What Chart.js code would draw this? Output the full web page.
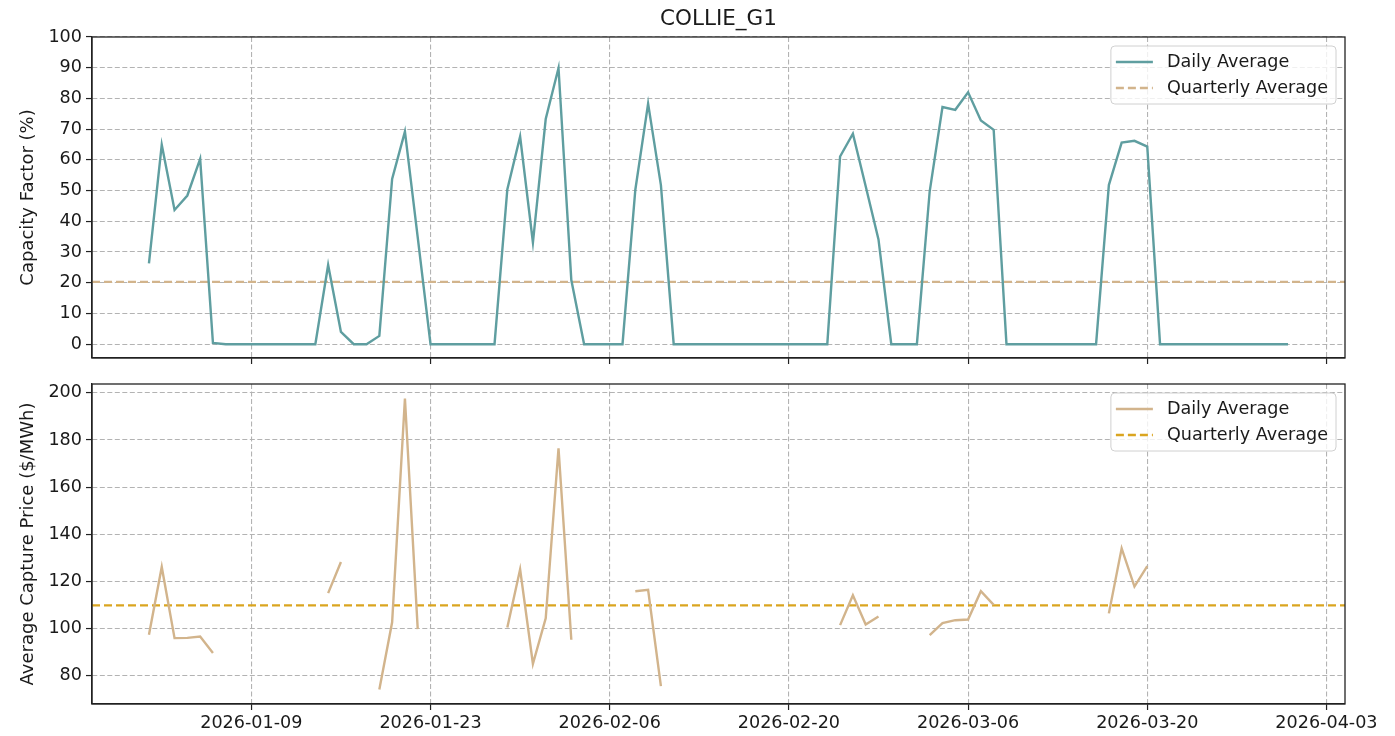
<!DOCTYPE html>
<html>
<head>
<meta charset="utf-8">
<script src="https://cdn.jsdelivr.net/npm/chart.js@4.4.1/dist/chart.umd.min.js"></script>
<style>
  body { margin: 0; background: #fff; }
  #wrap { position: relative; width: 1395px; height: 736px; }
  canvas { position: absolute; left: 0; }
</style>
</head>
<body>
<div id="wrap">
  <canvas id="cfChart" width="1395" height="371" style="top:0"></canvas>
  <canvas id="priceChart" width="1395" height="365" style="top:371px"></canvas>
</div>
<script>
// ---- data ----
const startDate = "2026-01-01";
const numDays = 90;

const dailyCF = [
  26.3, 64.9, 43.7, 48.4, 60.3, 0.4, 0, 0, 0, 0,
  0, 0, 0, 0, 25.8, 4.0, 0, 0, 2.7, 53.8,
  69.2, 34.8, 0, 0, 0, 0, 0, 0, 50.4, 67.6,
  33.1, 73.3, 89.9, 20.9, 0, 0, 0, 0, 50.2, 78.3,
  51.8, 0, 0, 0, 0, 0, 0, 0, 0, 0,
  0, 0, 0, 0, 61.1, 68.5, 51.4, 34.1, 0, 0,
  0, 49.7, 77.2, 76.3, 82.0, 72.8, 69.8, 0, 0, 0,
  0, 0, 0, 0, 0, 51.8, 65.6, 66.2, 64.3, 0,
  0, 0, 0, 0, 0, 0, 0, 0, 0, 0
];

const dailyPrice = [
  97.3, 126.1, 95.9, 96.0, 96.6, 89.6, null, null, null, null,
  null, null, null, null, 115.0, 128.2, null, null, 74.1, 102.6,
  197.6, 99.7, null, null, null, null, null, null, 100.4, 125.1,
  85.0, 104.3, 176.5, 95.2, null, null, null, null, 115.8, 116.4,
  75.5, null, null, null, null, null, null, null, null, null,
  null, null, null, null, 101.4, 114.1, 101.7, 105.1, null, null,
  null, 97.2, 102.3, 103.5, 103.8, 115.8, 110.0, null, null, null,
  null, null, null, null, null, 106.4, 134.0, 117.8, 126.5, null,
  null, null, null, null, null, null, null, null, null, null
];

const quarterlyCF = 20.3;
const quarterlyPrice = 109.8;

const xTickLabels = ["2026-01-09", "2026-01-23", "2026-02-06", "2026-02-20", "2026-03-06", "2026-03-20", "2026-04-03"];
const cfTicks = [0, 10, 20, 30, 40, 50, 60, 70, 80, 90, 100];
const priceTicks = [80, 100, 120, 140, 160, 180, 200];

// ---- helpers ----
const DAY = 86400000;
const t0 = Date.parse(startDate + "T00:00:00Z");
const dayOf = s => (Date.parse(s + "T00:00:00Z") - t0) / DAY;
const xTickPos = xTickLabels.map(dayOf);

// matplotlib style 5% margins
const xPad = 0.05 * (numDays - 1);
const xMin = -xPad, xMax = numDays - 1 + xPad;

const priceVals = dailyPrice.filter(v => v !== null);
const pMin = Math.min(...priceVals), pMax = Math.max(...priceVals);
const pPad = 0.05 * (pMax - pMin);
const cfMin = -0.05 * Math.max(...dailyCF);

const toPoints = arr => arr.map((v, i) => ({ x: i, y: v }));
const flatLine = v => [{ x: xMin, y: v }, { x: xMax, y: v }];

Chart.defaults.font.family = '"DejaVu Sans", sans-serif';
Chart.defaults.color = '#1a1a1a';

const GRID = '#b3b3b3';
const DARK = '#222';
const TICK_FONT = 17.6;

// frame round the plot like matplotlib spines
const frame = {
  id: 'frame',
  afterDatasetsDraw(chart) {
    const { ctx, chartArea: a } = chart;
    ctx.save();
    ctx.strokeStyle = DARK;
    ctx.lineWidth = 1.3;
    ctx.strokeRect(a.left, a.top, a.right - a.left, a.bottom - a.top);
    ctx.restore();
  }
};

// matplotlib-like legend box in the upper right
const boxLegend = {
  id: 'boxLegend',
  afterDraw(chart) {
    const { ctx, chartArea: a } = chart;
    const items = chart.data.datasets;
    ctx.save();
    ctx.font = TICK_FONT + 'px "DejaVu Sans"';
    const textW = Math.max(...items.map(d => ctx.measureText(d.label).width));
    const w = 5 + 37 + 14 + textW + 8;
    const h = 58;
    const x = a.right - 9 - w, y = a.top + 9;
    ctx.beginPath();
    ctx.roundRect(x, y, w, h, 4);
    ctx.fillStyle = 'rgba(255,255,255,0.8)';
    ctx.fill();
    ctx.strokeStyle = '#d0d0d0';
    ctx.lineWidth = 1;
    ctx.stroke();
    items.forEach((d, i) => {
      const cy = y + 16 + i * 26;
      ctx.beginPath();
      ctx.setLineDash(d.borderDash || []);
      ctx.strokeStyle = d.borderColor;
      ctx.lineWidth = d.borderWidth;
      ctx.moveTo(x + 5, cy);
      ctx.lineTo(x + 42, cy);
      ctx.stroke();
      ctx.setLineDash([]);
      ctx.fillStyle = '#1a1a1a';
      ctx.textBaseline = 'middle';
      ctx.fillText(d.label, x + 56, cy);
    });
    ctx.restore();
  }
};

function xScale(showLabels, height) {
  return {
    type: 'linear',
    min: xMin,
    max: xMax,
    afterBuildTicks: s => { s.ticks = xTickPos.map(v => ({ value: v })); },
    afterFit: s => { s.height = height; },
    ticks: {
      display: showLabels,
      padding: 3,
      maxRotation: 0,
      font: { size: TICK_FONT },
      callback: (v, i) => xTickLabels[i]
    },
    grid: { color: GRID, lineWidth: 1.1, tickLength: 6, tickColor: DARK, tickWidth: 1.2 },
    border: { color: DARK, width: 1.3, dash: [5, 2.5] }
  };
}

function yScale(min, max, tickList, title) {
  return {
    min: min,
    max: max,
    afterBuildTicks: s => { s.ticks = tickList.map(v => ({ value: v })); },
    afterFit: s => { s.width = 92; },
    ticks: { padding: 4, font: { size: TICK_FONT, lineHeight: 1 } },
    title: { display: true, text: title, font: { size: 18 }, padding: { top: 18, bottom: 0 } },
    grid: { color: GRID, lineWidth: 1.1, tickLength: 6, tickColor: DARK, tickWidth: 1.2 },
    border: { color: DARK, width: 1.3, dash: [5, 2.5] }
  };
}

const common = {
  responsive: false,
  animation: false,
  devicePixelRatio: 1,
  elements: { point: { radius: 0 }, line: { tension: 0 } }
};

// ===============================
// 1. CAPACITY FACTOR
// ===============================
new Chart(document.getElementById('cfChart'), {
  type: 'line',
  data: {
    datasets: [
      { label: 'Daily Average', data: toPoints(dailyCF), borderColor: '#5f9ea0', borderWidth: 2.4 },
      { label: 'Quarterly Average', data: flatLine(quarterlyCF), borderColor: '#d2b48c', borderWidth: 2.4, borderDash: [8, 4] }
    ]
  },
  options: Object.assign({}, common, {
    layout: { padding: { left: 0, right: 50, top: 0, bottom: 0 } },
    scales: {
      x: xScale(false, 13),
      y: yScale(cfMin, 100, cfTicks, 'Capacity Factor (%)')
    },
    plugins: {
      legend: { display: false },
      tooltip: { enabled: false },
      title: {
        display: true,
        text: 'COLLIE_G1',
        fullSize: false,
        font: { size: 21.5, weight: 'normal', lineHeight: 1.2 },
        color: '#1a1a1a',
        padding: { top: 7, bottom: 4.2 }
      }
    }
  }),
  plugins: [frame, boxLegend]
});

// ===============================
// 2. CAPTURE PRICE
// ===============================
new Chart(document.getElementById('priceChart'), {
  type: 'line',
  data: {
    datasets: [
      { label: 'Daily Average', data: toPoints(dailyPrice), borderColor: '#d2b48c', borderWidth: 2.4, spanGaps: false },
      { label: 'Quarterly Average', data: flatLine(quarterlyPrice), borderColor: '#daa520', borderWidth: 2.4, borderDash: [8, 4] }
    ]
  },
  options: Object.assign({}, common, {
    layout: { padding: { left: 0, right: 50, top: 13, bottom: 0 } },
    scales: {
      x: xScale(true, 32),
      y: yScale(pMin - pPad, pMax + pPad, priceTicks, 'Average Capture Price ($/MWh)')
    },
    plugins: {
      legend: { display: false },
      tooltip: { enabled: false }
    }
  }),
  plugins: [frame, boxLegend]
});
</script>
</body>
</html>
